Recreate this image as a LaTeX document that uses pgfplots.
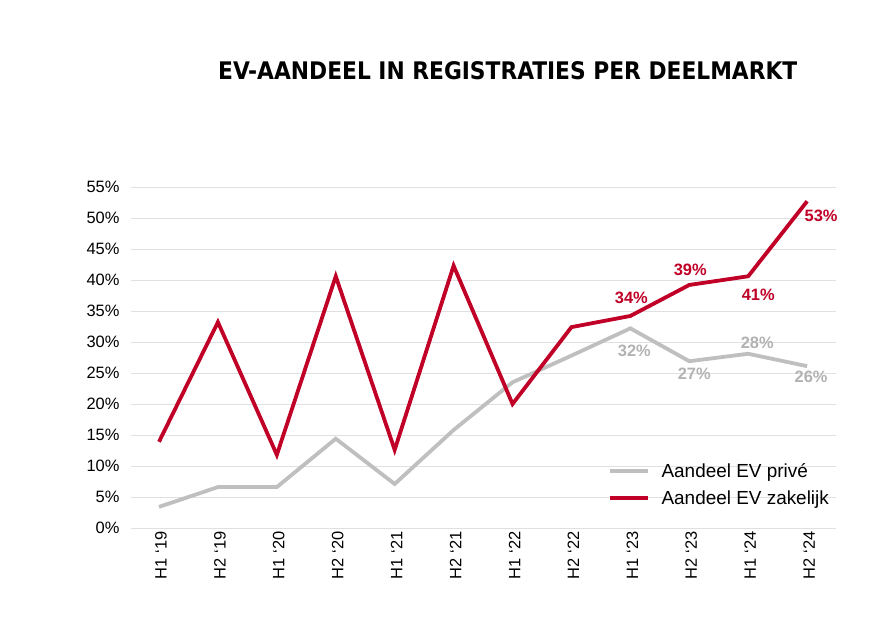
\documentclass[border=0pt]{standalone}
\usepackage{pgfplots}
\pgfplotsset{compat=1.18}
\usepackage{fontspec}
\setmainfont{Liberation Sans}
\newfontfamily\titlefont{DejaVu Sans Condensed}
\definecolor{evred}{RGB}{192,0,38}
\definecolor{evgray}{RGB}{191,191,191}
\definecolor{evlabgray}{RGB}{178,178,178}
\definecolor{gridc}{RGB}{224,224,224}
\begin{document}
\begin{tikzpicture}[x=1bp,y=1bp]
\path[use as bounding box] (0,0) rectangle (889,624);
\node[anchor=base west, inner sep=0] at (218,544) {\resizebox{579bp}{!}{\titlefont\bfseries EV-AANDEEL IN REGISTRATIES PER DEELMARKT}};
\begin{axis}[at={(131bp,96bp)}, anchor=south west, scale only axis,
  width=705bp, height=341bp,
  xmin=-0.475, xmax=11.49, ymin=0, ymax=55,
  axis line style={draw=none}, major tick length=0,
  ymajorgrids, grid style={gridc, line width=0.9bp},
  ytick={0,5,...,55},
  yticklabel={\pgfmathprintnumber[assume math mode=true]{\tick}\%},
  xtick={0,...,11},
  xticklabels={H1 ‘19,H2 ‘19,H1 ‘20,H2 ‘20,H1 ‘21,H2 ‘21,H1 ‘22,H2 ‘22,H1 ‘23,H2 ‘23,H1 ‘24,H2 ‘24},
  xticklabel style={rotate=90, anchor=east, yshift=-2bp},
  yticklabel style={xshift=-8bp},
  tick label style={font=\fontsize{16.5}{19}\selectfont, text=black},
  legend style={at={(0.676,0.196)}, anchor=north west, draw=none, fill=none,
    font=\fontsize{19}{21}\selectfont, row sep=8bp, inner sep=0pt,
    /tikz/every odd column/.append style={column sep=10bp}},
  legend cell align=left,
  legend image code/.code={\draw[#1] (0bp,0bp) -- (38bp,0bp);},
  clip=false,
]
\addplot[evgray, line width=3.8bp] coordinates {
(0,3.4) (1,6.6) (2,6.6) (3,14.4) (4,7.1) (5,15.8) (6,23.5) (7,27.8) (8,32.2) (9,26.9) (10,28.1) (11,26.1)};
\addlegendentry{Aandeel EV privé}
\addplot[evred, line width=3.8bp] coordinates {
(0,13.9) (1,33.2) (2,11.8) (3,40.6) (4,12.6) (5,42.3) (6,20.0) (7,32.4) (8,34.2) (9,39.2) (10,40.6) (11,52.7)};
\addlegendentry{Aandeel EV zakelijk}
\begin{scope}[every node/.style={font=\fontsize{16.5}{19}\selectfont\bfseries}]
\node[text=evred] at (axis cs:8,34.2) [yshift=18bp, xshift=1bp] {34\%};
\node[text=evred] at (axis cs:9,39.2) [yshift=15bp, xshift=1bp] {39\%};
\node[text=evred] at (axis cs:10,40.6) [yshift=-19bp, xshift=10bp] {41\%};
\node[text=evred] at (axis cs:11,52.7) [yshift=-15bp, xshift=14bp] {53\%};
\node[text=evlabgray] at (axis cs:8,32.2) [yshift=-22bp, xshift=4bp] {32\%};
\node[text=evlabgray] at (axis cs:9,26.9) [yshift=-13bp, xshift=5bp] {27\%};
\node[text=evlabgray] at (axis cs:10,28.1) [yshift=11bp, xshift=9bp] {28\%};
\node[text=evlabgray] at (axis cs:11,26.1) [yshift=-11bp, xshift=4bp] {26\%};
\end{scope}
\end{axis}
\end{tikzpicture}
\end{document}
